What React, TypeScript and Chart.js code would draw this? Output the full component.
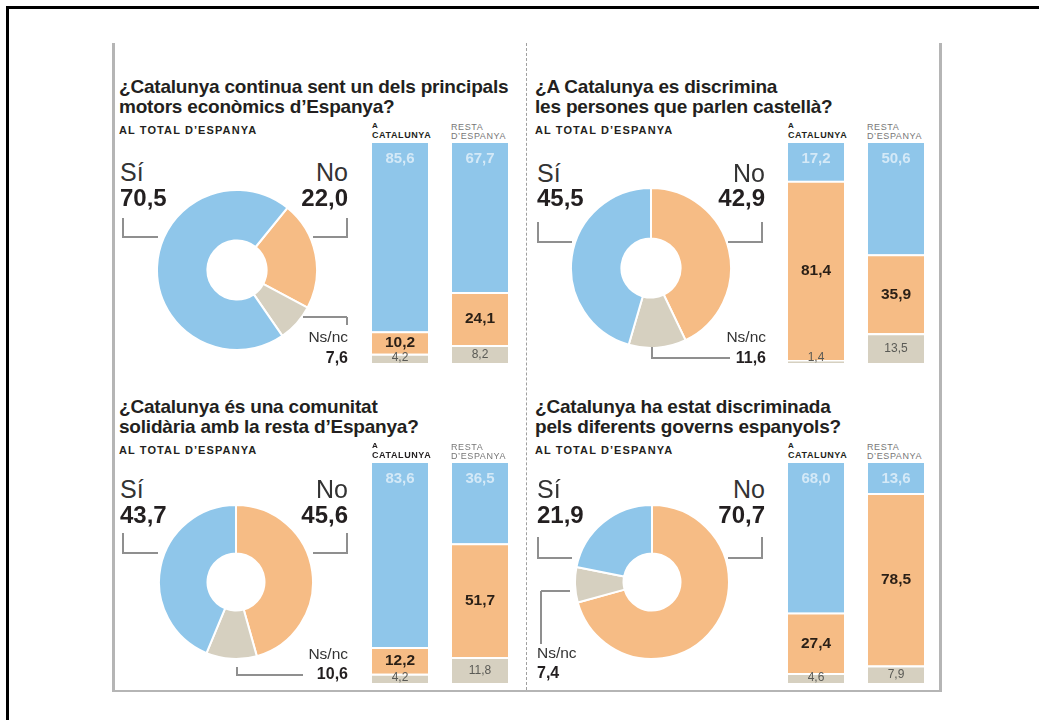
import React, { useEffect, useRef } from "react";
import { Chart, registerables } from "chart.js";

Chart.register(...registerables);

// ---------- data ----------
const titles = [
  ["¿Catalunya continua sent un dels principals", "motors econòmics d’Espanya?"],
  ["¿A Catalunya es discrimina", "les persones que parlen castellà?"],
  ["¿Catalunya és una comunitat", "solidària amb la resta d’Espanya?"],
  ["¿Catalunya ha estat discriminada", "pels diferents governs espanyols?"],
];
const subtitle = "AL TOTAL D’ESPANYA";
const answerLabels = ["Sí", "No", "Ns/nc"];
const groupTop = ["A", "RESTA"];
const groupBottom = ["CATALUNYA", "D’ESPANYA"];

const totalSi = [70.5, 45.5, 43.7, 21.9];
const totalNo = [22.0, 42.9, 45.6, 70.7];
const totalNs = [7.6, 11.6, 10.6, 7.4];

const catSi = [85.6, 17.2, 83.6, 68.0];
const catNo = [10.2, 81.4, 12.2, 27.4];
const catNs = [4.2, 1.4, 4.2, 4.6];

const restaSi = [67.7, 50.6, 36.5, 13.6];
const restaNo = [24.1, 35.9, 51.7, 78.5];
const restaNs = [8.2, 13.5, 11.8, 7.9];

const donutRotation = [39, 0, 0, 0];

// ---------- styles ----------
const FONT = '"Liberation Sans", Arial, Helvetica, sans-serif';
const BLUE = "#8fc6ea";
const ORANGE = "#f6bc85";
const GRAY = "#d6d0c0";
const INK = "#231f20";
const LINE = "#8f8f8f";

const fmt = (v: number) => v.toFixed(1).replace(".", ",");

// ---------- layout (positions only) ----------
type Layout = {
  tx: number; ty: number;
  cx: number; cy: number; r: number;
  siX: number; noX: number; y1: number; y2: number;
  lb: [number, number, number, number]; // x, yTop, yBottom, xEnd
  rb: [number, number, number, number];
  nsLines: [number, number, number, number][];
  nsX: number; nsAlign: "left" | "right"; nsY1: number; nsY2: number;
  barX: number; barY: number;
};

const layouts: Layout[] = [
  {
    tx: 119, ty: 77, cx: 237, cy: 270, r: 80,
    siX: 120, noX: 348, y1: 172, y2: 198,
    lb: [123, 218, 237, 158], rb: [347, 218, 237, 313],
    nsLines: [[303, 317, 347, 317], [347, 317, 347, 324]],
    nsX: 348, nsAlign: "right", nsY1: 337, nsY2: 358,
    barX: 360, barY: 143,
  },
  {
    tx: 535, ty: 77, cx: 651, cy: 268, r: 80,
    siX: 537, noX: 765, y1: 173, y2: 198,
    lb: [538, 222, 242, 572], rb: [762, 222, 242, 728],
    nsLines: [[652, 347, 652, 358], [652, 358, 730, 358]],
    nsX: 766, nsAlign: "right", nsY1: 337, nsY2: 358,
    barX: 776, barY: 143,
  },
  {
    tx: 119, ty: 397, cx: 236, cy: 582, r: 77,
    siX: 120, noX: 348, y1: 489, y2: 515,
    lb: [123, 533, 553, 158], rb: [347, 533, 553, 313],
    nsLines: [[237, 667, 237, 675], [237, 675, 303, 675]],
    nsX: 348, nsAlign: "right", nsY1: 654, nsY2: 674,
    barX: 360, barY: 463,
  },
  {
    tx: 535, ty: 397, cx: 652, cy: 582, r: 77,
    siX: 537, noX: 765, y1: 489, y2: 515,
    lb: [538, 537, 558, 572], rb: [762, 537, 558, 728],
    nsLines: [[541, 591, 570, 591], [541, 591, 541, 643]],
    nsX: 537, nsAlign: "left", nsY1: 653, nsY2: 673,
    barX: 776, barY: 463,
  },
];

// ---------- helpers ----------
function T(props: {
  x: number; y: number; text: string; size: number; weight?: number;
  color?: string; align?: "left" | "right"; ls?: number;
}) {
  const { x, y, text, size, weight = 400, color = INK, align = "left", ls = 0 } = props;
  return (
    <div
      style={{
        position: "absolute",
        left: x,
        top: y,
        transform: align === "right" ? "translate(-100%, -50%)" : "translate(0, -50%)",
        fontFamily: FONT,
        fontSize: size,
        fontWeight: weight,
        lineHeight: 1,
        color,
        whiteSpace: "nowrap",
        letterSpacing: ls,
      }}
    >
      {text}
    </div>
  );
}

function Ln({ x1, y1, x2, y2 }: { x1: number; y1: number; x2: number; y2: number }) {
  const w = 2;
  const horiz = y1 === y2;
  return (
    <div
      style={{
        position: "absolute",
        left: Math.min(x1, x2) - (horiz ? 0 : w / 2),
        top: Math.min(y1, y2) - (horiz ? w / 2 : 0),
        width: horiz ? Math.abs(x2 - x1) : w,
        height: horiz ? w : Math.abs(y2 - y1) + w / 2,
        background: LINE,
      }}
    />
  );
}

function Donut({ i, cx, cy, r }: { i: number; cx: number; cy: number; r: number }) {
  const ref = useRef<HTMLCanvasElement>(null);
  const size = 2 * r + 2;
  useEffect(() => {
    const chart = new Chart(ref.current!, {
      type: "doughnut",
      data: {
        labels: [answerLabels[1], answerLabels[2], answerLabels[0]],
        datasets: [
          {
            data: [totalNo[i], totalNs[i], totalSi[i]],
            backgroundColor: [ORANGE, GRAY, BLUE],
            borderColor: "#ffffff",
            borderWidth: 2,
          },
        ],
      },
      options: {
        responsive: false,
        animation: false,
        events: [],
        rotation: donutRotation[i],
        cutout: "37%",
        layout: { padding: 0 },
        plugins: { legend: { display: false }, tooltip: { enabled: false } },
      },
    });
    return () => chart.destroy();
  }, [i]);
  return (
    <canvas
      ref={ref}
      width={size}
      height={size}
      style={{ position: "absolute", left: cx - size / 2, top: cy - size / 2, width: size, height: size }}
    />
  );
}

const barLabelPlugin = {
  id: "barLabels",
  afterDatasetsDraw(chart: any) {
    const ctx = chart.ctx;
    ctx.save();
    ctx.textAlign = "center";
    ctx.textBaseline = "middle";
    chart.data.datasets.forEach((ds: any, d: number) => {
      const meta = chart.getDatasetMeta(d);
      meta.data.forEach((el: any, k: number) => {
        const { x, y, base } = el.getProps(["x", "y", "base"], true);
        const v = ds.data[k] as number;
        let ly = (y + base) / 2;
        if (d === 2) {
          ctx.font = `bold 15px ${FONT}`;
          ctx.fillStyle = "#d4e9f7";
          ly = y + 15;
        } else if (d === 1) {
          ctx.font = `bold 15.5px ${FONT}`;
          ctx.fillStyle = "#2a1f16";
        } else {
          ctx.font = `12px ${FONT}`;
          ctx.fillStyle = "#5a5a55";
          ly = Math.min(ly, base - 5.5);
        }
        ctx.fillText(fmt(v), x, ly + 0.5);
      });
    });
    ctx.restore();
  },
};

function Bars({ i, x, y }: { i: number; x: number; y: number }) {
  const ref = useRef<HTMLCanvasElement>(null);
  const w = 160;
  const h = 220;
  useEffect(() => {
    const chart = new Chart(ref.current!, {
      type: "bar",
      data: {
        labels: [groupBottom[0], groupBottom[1]],
        datasets: [
          {
            label: answerLabels[2],
            data: [catNs[i], restaNs[i]],
            backgroundColor: GRAY,
            borderColor: "#ffffff",
            borderWidth: { top: 2, right: 0, bottom: 0, left: 0 },
            borderSkipped: false,
          },
          {
            label: answerLabels[1],
            data: [catNo[i], restaNo[i]],
            backgroundColor: ORANGE,
            borderColor: "#ffffff",
            borderWidth: { top: 2, right: 0, bottom: 0, left: 0 },
            borderSkipped: false,
          },
          {
            label: answerLabels[0],
            data: [catSi[i], restaSi[i]],
            backgroundColor: BLUE,
            borderWidth: 0,
          },
        ],
      },
      options: {
        responsive: false,
        animation: false,
        events: [],
        layout: { padding: 0 },
        datasets: { bar: { barPercentage: 0.7, categoryPercentage: 1 } },
        scales: {
          x: { display: false, stacked: true },
          y: { display: false, stacked: true, min: 0, max: 100 },
        },
        plugins: { legend: { display: false }, tooltip: { enabled: false } },
      },
      plugins: [barLabelPlugin],
    });
    return () => chart.destroy();
  }, [i]);
  return (
    <canvas
      ref={ref}
      width={w}
      height={h}
      style={{ position: "absolute", left: x, top: y, width: w, height: h }}
    />
  );
}

function Panel({ i }: { i: number }) {
  const L = layouts[i];
  const catLeft = L.barX + 12;
  const restaLeft = L.barX + 92;
  const hy = L.barY;
  return (
    <>
      <div
        style={{
          position: "absolute",
          left: L.tx,
          top: L.ty,
          fontFamily: FONT,
          fontSize: 19,
          fontWeight: 700,
          lineHeight: "20px",
          letterSpacing: -0.2,
          color: INK,
          whiteSpace: "nowrap",
        }}
      >
        <div>{titles[i][0]}</div>
        <div>{titles[i][1]}</div>
      </div>
      <T x={L.tx} y={L.ty + 53} text={subtitle} size={11} weight={700} ls={1.1} />
      <T x={catLeft} y={hy - 17} text={groupTop[0]} size={8} weight={700} />
      <T x={catLeft} y={hy - 8} text={groupBottom[0]} size={9} weight={700} ls={0.6} />
      <T x={restaLeft - 1} y={hy - 16} text={groupTop[1]} size={9} color="#777" ls={0.6} />
      <T x={restaLeft - 1} y={hy - 7} text={groupBottom[1]} size={9} color="#777" ls={0.6} />

      <Donut i={i} cx={L.cx} cy={L.cy} r={L.r} />
      <Bars i={i} x={L.barX} y={L.barY} />

      <T x={L.siX} y={L.y1} text={answerLabels[0]} size={25} color="#333" />
      <T x={L.siX} y={L.y2} text={fmt(totalSi[i])} size={24} weight={700} />
      <T x={L.noX} y={L.y1} text={answerLabels[1]} size={25} color="#333" align="right" />
      <T x={L.noX} y={L.y2} text={fmt(totalNo[i])} size={24} weight={700} align="right" />

      <Ln x1={L.lb[0]} y1={L.lb[1]} x2={L.lb[0]} y2={L.lb[2]} />
      <Ln x1={L.lb[0]} y1={L.lb[2]} x2={L.lb[3]} y2={L.lb[2]} />
      <Ln x1={L.rb[0]} y1={L.rb[1]} x2={L.rb[0]} y2={L.rb[2]} />
      <Ln x1={L.rb[3]} y1={L.rb[2]} x2={L.rb[0]} y2={L.rb[2]} />
      {L.nsLines.map((s, k) => (
        <Ln key={k} x1={s[0]} y1={s[1]} x2={s[2]} y2={s[3]} />
      ))}

      <T x={L.nsX} y={L.nsY1} text={answerLabels[2]} size={15.5} color="#333" align={L.nsAlign} />
      <T x={L.nsX} y={L.nsY2} text={fmt(totalNs[i])} size={16} weight={700} align={L.nsAlign} />
    </>
  );
}

export default function App() {
  return (
    <div
      style={{
        position: "absolute",
        left: 0,
        top: 0,
        width: 1039,
        height: 720,
        background: "#ffffff",
        overflow: "hidden",
      }}
    >
      {/* outer black frame (top & left) */}
      <div style={{ position: "absolute", left: 6, top: 6, width: 1040, height: 720, borderTop: "3px solid #000", borderLeft: "3px solid #000" }} />
      {/* graphic frame */}
      <div style={{ position: "absolute", left: 112, top: 43, width: 824, height: 647, borderLeft: "3px solid #b5b5b5", borderRight: "3px solid #b5b5b5", borderBottom: "2px solid #b5b5b5" }} />
      {/* centre dashed divider */}
      <div style={{ position: "absolute", left: 526, top: 43, width: 0, height: 647, borderLeft: "1px dashed #a0a0a0" }} />
      {[0, 1, 2, 3].map((i) => (
        <Panel key={i} i={i} />
      ))}
    </div>
  );
}
